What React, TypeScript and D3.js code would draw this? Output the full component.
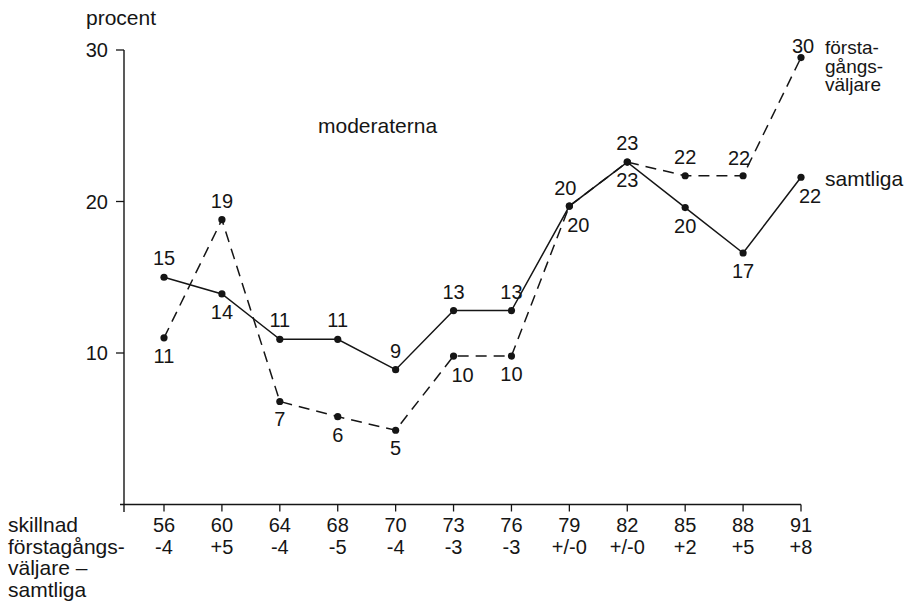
import React from "react";
import * as d3 from "d3";

const years = ["56", "60", "64", "68", "70", "73", "76", "79", "82", "85", "88", "91"];
const diffs = ["-4", "+5", "-4", "-5", "-4", "-3", "-3", "+/-0", "+/-0", "+2", "+5", "+8"];
const samtliga = [15.0, 13.9, 10.9, 10.9, 8.9, 12.8, 12.8, 19.7, 22.6, 19.6, 16.6, 21.6];
const forstagangs = [11.0, 18.8, 6.8, 5.8, 4.9, 9.8, 9.8, 19.7, 22.6, 21.7, 21.7, 29.5];
const yTicks = [10, 20, 30];
const forstaLabel = ["första-", "gångs-", "väljare"];
const leftLabel = ["skillnad", "förstagångs-", "väljare –", "samtliga"];

// label placement codes (a = above, b = below, br = below-right, al = above-left, t = tight above)
const samtligaPlace = ["a", "b", "a", "a", "a", "a", "a", "br", "b", "b", "b", "br"];
const forstaPlace = ["b", "a", "b", "b", "b", "br", "b", "al", "a", "a", "al", "t"];

const W = 909;
const H = 603;
const FONT = "'Liberation Sans', Arial, Helvetica, sans-serif";
const INK = "#151515";

const offsets: Record<string, [number, number]> = {
  a: [0, -12],
  b: [0, 25],
  br: [9, 26],
  al: [-4, -11],
  t: [2, -5],
};

export default function App() {
  const x = d3.scalePoint<string>().domain(years).range([164, 801]);
  const y = d3.scaleLinear().domain([0, 30]).range([504.5, 50]);
  const axisX = 124;
  const axisY = 504.5;

  const line = d3
    .line<number>()
    .x((_, i) => x(years[i]) as number)
    .y((d) => y(d));

  const series = [
    { values: samtliga, place: samtligaPlace, dash: undefined as string | undefined },
    { values: forstagangs, place: forstaPlace, dash: "11,7" },
  ];

  const lastX = x(years[years.length - 1]) as number;
  const fLastY = y(forstagangs[forstagangs.length - 1]);
  const sLastY = y(samtliga[samtliga.length - 1]);

  return (
    <svg
      width={W}
      height={H}
      style={{ position: "absolute", left: 0, top: 0, display: "block", background: "#fff" }}
      fontFamily={FONT}
    >
      <rect x={0} y={0} width={W} height={H} fill="#fff" />
      {/* y axis */}
      <text x={86} y={25} fontSize={21} fill={INK}>procent</text>
      <line x1={axisX} x2={axisX} y1={y(30)} y2={512} stroke={INK} strokeWidth={1.4} />
      {yTicks.map((t) => (
        <g key={t}>
          <line x1={axisX - 8} x2={axisX} y1={y(t)} y2={y(t)} stroke={INK} strokeWidth={1.3} />
          <text x={108} y={y(t) + 7} fontSize={20} textAnchor="end" fill={INK}>
            {t}
          </text>
        </g>
      ))}
      {/* x axis */}
      <line x1={axisX - 4} x2={lastX} y1={axisY} y2={axisY} stroke={INK} strokeWidth={1.4} />
      {years.map((yr, i) => (
        <g key={yr}>
          <line
            x1={x(yr) as number}
            x2={x(yr) as number}
            y1={axisY}
            y2={axisY + 7}
            stroke={INK}
            strokeWidth={1.3}
          />
          <text x={x(yr) as number} y={532} fontSize={20} textAnchor="middle" fill={INK}>
            {yr}
          </text>
          <text x={x(yr) as number} y={554} fontSize={20} textAnchor="middle" fill={INK}>
            {diffs[i]}
          </text>
        </g>
      ))}
      {leftLabel.map((t, i) => (
        <text key={t} x={8} y={532 + i * 21.7} fontSize={21} fill={INK}>
          {t}
        </text>
      ))}
      {/* title */}
      <text x={318} y={133} fontSize={21} fill={INK}>moderaterna</text>
      {/* series */}
      {series.map((s, si) => (
        <g key={si}>
          <path
            d={line(s.values) || ""}
            fill="none"
            stroke={INK}
            strokeWidth={1.5}
            strokeDasharray={s.dash}
          />
          {s.values.map((v, i) => {
            const px = x(years[i]) as number;
            const py = y(v);
            const [dx, dy] = offsets[s.place[i]];
            return (
              <g key={i}>
                <circle cx={px} cy={py} r={3.6} fill={INK} />
                <text x={px + dx} y={py + dy} fontSize={20} textAnchor="middle" fill={INK}>
                  {Math.round(v)}
                </text>
              </g>
            );
          })}
        </g>
      ))}
      {/* series labels */}
      {forstaLabel.map((t, i) => (
        <text key={t} x={lastX + 24} y={fLastY - 3.5 + i * 18.5} fontSize={19} fill={INK}>
          {t}
        </text>
      ))}
      <text x={lastX + 24} y={sLastY + 9} fontSize={21} fill={INK}>samtliga</text>
    </svg>
  );
}
